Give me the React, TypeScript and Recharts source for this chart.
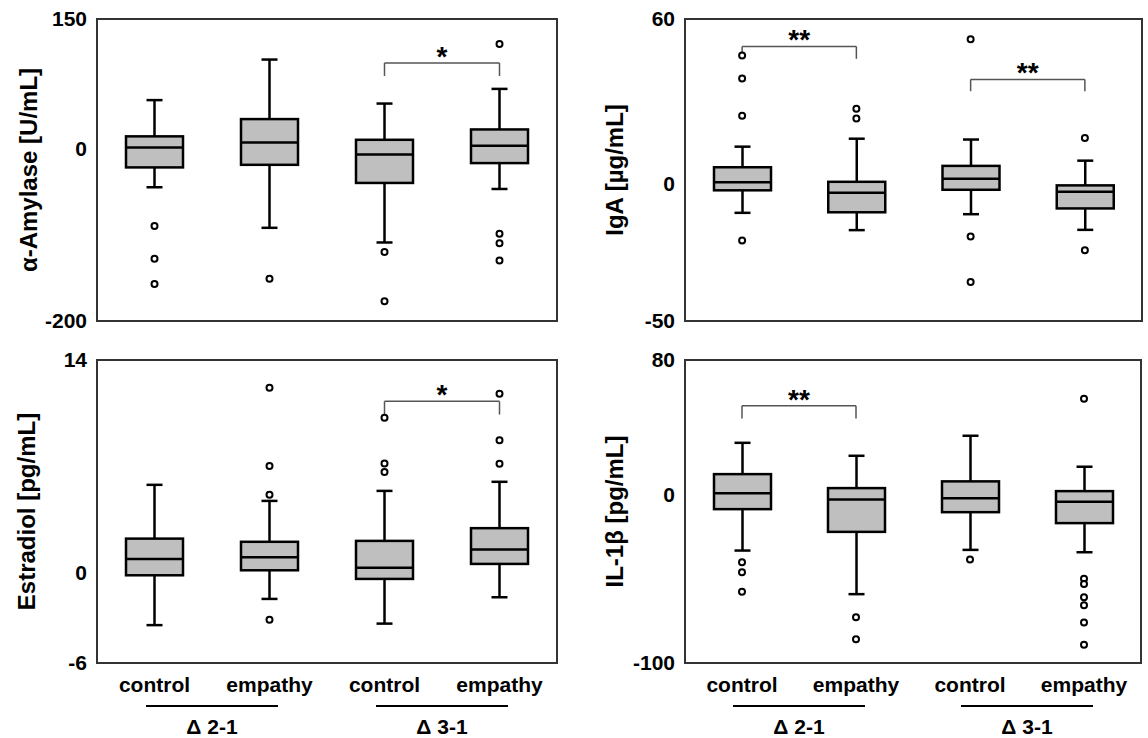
import { Bar, ComposedChart, ReferenceArea, ReferenceLine, Scatter, XAxis, YAxis } from "recharts";

const FONT = "'Liberation Sans', Arial, Helvetica, sans-serif";

// categories shared by all four panels
const CATS = ["c21", "e21", "c31", "e31"];
const CAT_LABELS = ["control", "empathy", "control", "empathy"];
const GROUPS = ["Δ 2-1", "Δ 2-1", "Δ 3-1", "Δ 3-1"];

// α-Amylase [U/mL]
const AMY_TICKS = [-200, 0, 150];
const AMY_LO = [-45, -92, -109, -47];
const AMY_Q1 = [-22, -19, -40, -17];
const AMY_MED = [1, 7, -7, 3];
const AMY_Q3 = [14, 34, 10, 22];
const AMY_HI = [56, 103, 52, 69];
const AMY_OUT = [[-90, -128, -157], [-151], [-120, -177], [121, -99, -110, -130]];

// IgA [µg/mL]
const IGA_TICKS = [-50, 0, 60];
const IGA_LO = [-10.6, -16.9, -11.1, -16.8];
const IGA_Q1 = [-2.4, -10.4, -2.2, -9];
const IGA_MED = [0.5, -3.3, 1.8, -2.9];
const IGA_Q3 = [6, 0.7, 6.5, -0.6];
const IGA_HI = [13.5, 16.4, 16.1, 8.4];
const IGA_OUT = [[46.7, 38.3, 24.8, -20.7], [27.3, 23.8], [52.6, -19.2, -35.8], [16.7, -24.2]];

// Estradiol [pg/mL]
const EST_TICKS = [-6, 0, 14];
const EST_LO = [-3.5, -1.77, -3.4, -1.66];
const EST_Q1 = [-0.21, 0.12, -0.45, 0.54];
const EST_MED = [0.87, 0.98, 0.28, 1.49];
const EST_Q3 = [2.21, 2.0, 2.06, 2.9];
const EST_HI = [5.76, 4.7, 5.36, 5.96];
const EST_OUT = [[], [12.17, 7.0, 5.1, -3.14], [10.19, 7.17, 6.6], [11.78, 8.71, 7.15]];

// IL-1β [pg/mL]
const IL_TICKS = [-100, 0, 80];
const IL_LO = [-33.2, -59.1, -32.8, -34.2];
const IL_Q1 = [-8.6, -22.1, -10.4, -16.9];
const IL_MED = [0.9, -2.8, -2.1, -4.2];
const IL_Q3 = [12.2, 3.9, 7.9, 2.1];
const IL_HI = [30.8, 23.1, 35, 16.6];
const IL_OUT = [[-40.1, -46.1, -57.6], [-72.8, -85.9], [-38.5], [57, -50, -53, -60.9, -65.7, -76, -89.1]];

// significance brackets: [from, to, bar value, leg end value, mark]
const AMY_SIG = [["c31", "e31", 99, 84, "*"]];
const IGA_SIG = [["c21", "e21", 50, 45.5, "**"], ["c31", "e31", 38, 33.7, "**"]];
const EST_SIG = [["c31", "e31", 11.27, 10.4, "*"]];
const IL_SIG = [["c21", "e21", 52.8, 45.3, "**"]];

const FRAME = "#333";
const TICK_STYLE = { fontSize: 21, fontWeight: "bold", fill: "#000", fontFamily: FONT };

function buildRows(lo: number[], q1: number[], med: number[], q3: number[], hi: number[]) {
  return CATS.map((name, i) => ({ name, group: GROUPS[i], lo: lo[i], q1: q1[i], med: med[i], q3: q3[i], hi: hi[i] }));
}

function buildOutliers(out: number[][]) {
  return out.flatMap((vals, i) => vals.map((v) => ({ name: CATS[i], v })));
}

/** whole box plot drawn inside the whisker range bar the scale gave us */
function BoxShape(props: any) {
  const { x, y, width, height, payload } = props;
  const { lo, hi, q1, med, q3 } = payload;
  const top = Math.min(y, y + height);
  const h = Math.abs(height);
  const py = (v: number) => top + ((hi - v) / (hi - lo)) * h;
  const cx = x + width / 2;
  const cap = 8;
  const s = { stroke: "#000", strokeWidth: 2.5 };
  return (
    <g>
      <line x1={cx} x2={cx} y1={py(hi)} y2={py(q3)} {...s} />
      <line x1={cx} x2={cx} y1={py(q1)} y2={py(lo)} {...s} />
      <line x1={cx - cap} x2={cx + cap} y1={py(hi)} y2={py(hi)} {...s} />
      <line x1={cx - cap} x2={cx + cap} y1={py(lo)} y2={py(lo)} {...s} />
      <rect x={x} y={py(q3)} width={width} height={py(q1) - py(q3)} fill="#bfbfbf" {...s} />
      <line x1={x} x2={x + width} y1={py(med)} y2={py(med)} {...s} />
    </g>
  );
}

function OutlierDot(props: any) {
  return <circle cx={props.cx} cy={props.cy} r={3} fill="#fff" stroke="#000" strokeWidth={2} />;
}

function YTick(props: any) {
  const { x, y, payload } = props;
  return (
    <text x={x} y={y} dy="0.355em" textAnchor="end" {...TICK_STYLE}>
      {payload.value}
    </text>
  );
}

function GroupTick(props: any) {
  const { x, y, payload } = props;
  return (
    <g>
      <line x1={x - 66} x2={x + 66} y1={y + 3} y2={y + 3} stroke="#000" strokeWidth={2} />
      <text x={x} y={y + 31} textAnchor="middle" {...TICK_STYLE}>
        {payload.value}
      </text>
    </g>
  );
}

function StarLabel(props: any) {
  const { viewBox, value } = props;
  const cx = viewBox.x + viewBox.width / 2;
  return (
    <text x={cx} y={viewBox.y + 3} textAnchor="middle" {...TICK_STYLE} fontSize={28}>
      {value}
    </text>
  );
}

interface PanelProps {
  left: number;
  top: number;
  height: number;
  marginTop: number;
  marginRight: number;
  yWidth: number;
  labelOffset: number;
  label: string;
  ticks: number[];
  rows: any[];
  outliers: any[];
  sig: any[];
  showX: boolean;
}

function Panel(p: PanelProps) {
  const domain = [p.ticks[0], p.ticks[p.ticks.length - 1]];
  return (
    <div style={{ position: "absolute", left: p.left, top: p.top }}>
      <ComposedChart
        width={574}
        height={p.height}
        data={p.rows}
        margin={{ top: p.marginTop, right: p.marginRight, bottom: p.showX ? 0 : 19, left: 0 }}
      >
        <XAxis
          dataKey="name"
          type="category"
          allowDuplicatedCategory={false}
          tickFormatter={(v: string) => CAT_LABELS[CATS.indexOf(v)]}
          tick={p.showX ? TICK_STYLE : false}
          tickLine={false}
          tickMargin={8}
          height={p.showX ? 40 : 0}
          interval={0}
          axisLine={false}
        />
        {p.showX && (
          <XAxis
            xAxisId="grp"
            dataKey="group"
            type="category"
            allowDuplicatedCategory={false}
            tick={<GroupTick />}
            tickLine={false}
            tickSize={0}
            tickMargin={0}
            axisLine={false}
            height={35}
            interval={0}
          />
        )}
        <YAxis
          type="number"
          domain={domain}
          ticks={p.ticks}
          interval={0}
          width={p.yWidth}
          tick={<YTick />}
          tickLine={false}
          tickMargin={4}
          axisLine={false}
          label={{
            value: p.label,
            angle: -90,
            position: "insideLeft",
            offset: p.labelOffset,
            style: { textAnchor: "middle", fontSize: 24, fontWeight: "bold", fill: "#000", fontFamily: FONT },
          }}
        />
        <ReferenceArea
          x1={CATS[0]}
          x2={CATS[CATS.length - 1]}
          y1={domain[0]}
          y2={domain[1]}
          fill="none"
          stroke={FRAME}
          strokeWidth={2}
        />
        <Bar dataKey={(d: any) => [d.lo, d.hi]} barSize={57} shape={<BoxShape />} isAnimationActive={false} />
        <Scatter data={p.outliers} dataKey="v" shape={<OutlierDot />} isAnimationActive={false} />
        {p.sig.map(([from, to, bar, leg, mark]: any, i: number) => (
          <g key={i}>
            <ReferenceLine
              segment={[{ x: from, y: bar }, { x: to, y: bar }]}
              stroke="#555"
              strokeWidth={1.5}
              label={<StarLabel value={mark} />}
            />
            <ReferenceLine segment={[{ x: from, y: bar }, { x: from, y: leg }]} stroke="#555" strokeWidth={1.5} />
            <ReferenceLine segment={[{ x: to, y: bar }, { x: to, y: leg }]} stroke="#555" strokeWidth={1.5} />
          </g>
        ))}
      </ComposedChart>
    </div>
  );
}

export default function App() {
  return (
    <div style={{ position: "absolute", left: 0, top: 0, width: 1148, height: 738, background: "#fff", fontFamily: FONT }}>
      <Panel
        left={0} top={0} height={340} marginTop={19} marginRight={17} yWidth={97} labelOffset={28}
        label="α-Amylase [U/mL]" ticks={AMY_TICKS}
        rows={buildRows(AMY_LO, AMY_Q1, AMY_MED, AMY_Q3, AMY_HI)} outliers={buildOutliers(AMY_OUT)} sig={AMY_SIG}
        showX={false}
      />
      <Panel
        left={574} top={0} height={340} marginTop={19} marginRight={6} yWidth={111} labelOffset={40}
        label="IgA [µg/mL]" ticks={IGA_TICKS}
        rows={buildRows(IGA_LO, IGA_Q1, IGA_MED, IGA_Q3, IGA_HI)} outliers={buildOutliers(IGA_OUT)} sig={IGA_SIG}
        showX={false}
      />
      <Panel
        left={0} top={340} height={398} marginTop={20} marginRight={17} yWidth={97} labelOffset={26}
        label="Estradiol [pg/mL]" ticks={EST_TICKS}
        rows={buildRows(EST_LO, EST_Q1, EST_MED, EST_Q3, EST_HI)} outliers={buildOutliers(EST_OUT)} sig={EST_SIG}
        showX={true}
      />
      <Panel
        left={574} top={340} height={398} marginTop={20} marginRight={7} yWidth={111} labelOffset={40}
        label="IL-1β [pg/mL]" ticks={IL_TICKS}
        rows={buildRows(IL_LO, IL_Q1, IL_MED, IL_Q3, IL_HI)} outliers={buildOutliers(IL_OUT)} sig={IL_SIG}
        showX={true}
      />
    </div>
  );
}
